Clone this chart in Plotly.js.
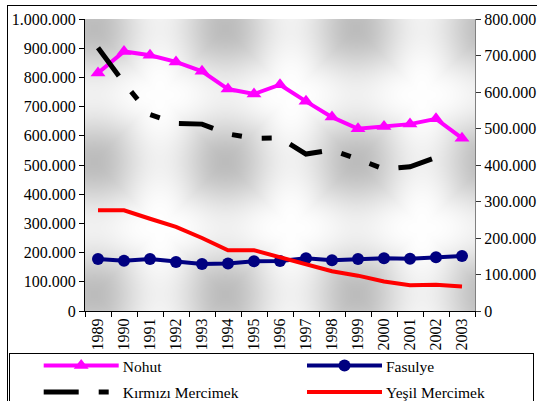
<!DOCTYPE html>
<html><head><meta charset="utf-8">
<script src="https://cdn.plot.ly/plotly-3.0.1.min.js"></script>
<style>
html,body{margin:0;padding:0;overflow:hidden;background:#fff;width:537px;height:401px;}
#chart{position:absolute;left:0;top:0;width:537px;height:401px;}
#frame{position:absolute;left:7px;top:5px;width:600px;height:500px;border:1px solid #000;pointer-events:none;}
</style></head><body>
<div id="chart"></div><div id="frame"></div>
<script>
// ---- data ----
const years = ['1989','1990','1991','1992','1993','1994','1995','1996','1997','1998','1999','2000','2001','2002','2003'];
const nohut = [815000, 889000, 876000, 853000, 821000, 760000, 743000, 775000, 718000, 664000, 624000, 632000, 640000, 658000, 592000];
const fasulye = [178000, 172000, 178000, 168000, 161000, 163000, 170000, 171000, 181000, 174000, 178000, 181000, 179000, 184000, 188000];
// right axis (0 - 800.000)
const kirmiziMercimek = [721000, 625000, 538000, 514000, 512000, 485000, 473000, 474000, 430000, 441000, 416000, 389000, 395000, 421000, null];
const yesilMercimek = [345000, 345000, 316000, 288000, 250000, 208000, 208000, 184000, 161000, 136000, 121000, 101000, 88000, 90000, 84000];
const seriesNames = ['Nohut', 'Fasulye', 'Kırmızı Mercimek', 'Yeşil Mercimek'];

// ---- background texture for the plot area ----
function makeTexture(w, h, ox, oy) {
  const c = document.createElement('canvas'); c.width = w; c.height = h;
  const ctx = c.getContext('2d'); const img = ctx.createImageData(w, h);
  for (let y = 0; y < h; y++) {
    for (let x = 0; x < w; x++) {
      const X = ox + x, Y = oy + y;
      const tx = 0.5 + 0.5 * Math.cos(2 * Math.PI * (X - 94) / 131);
      const ty = 0.5 + 0.5 * Math.cos(2 * Math.PI * (Y - 28) / 133);
      const f = 0.6 * Math.pow((tx + ty) / 2, 1.5) + 0.4 * Math.min(tx, ty);
      const v = Math.round(254 - 66 * f);
      const k = (y * w + x) * 4;
      img.data[k] = v; img.data[k + 1] = v; img.data[k + 2] = v; img.data[k + 3] = 255;
    }
  }
  ctx.putImageData(img, 0, 0);
  return c.toDataURL();
}

const serif = 'Liberation Serif';
const tickFont = {family: serif, size: 16, color: '#000'};

const data = [
  {x: years, y: nohut, name: seriesNames[0], type: 'scatter', mode: 'lines+markers',
   line: {color: '#FF00FF', width: 4}, marker: {symbol: 'triangle-up', size: 13, color: '#FF00FF'}},
  {x: years, y: fasulye, name: seriesNames[1], type: 'scatter', mode: 'lines+markers',
   line: {color: '#000080', width: 4}, marker: {symbol: 'circle', size: 12, color: '#000080'}},
  {x: years, y: kirmiziMercimek, name: seriesNames[2], type: 'scatter', mode: 'lines', yaxis: 'y2',
   line: {color: '#000000', width: 5, dash: '35px,20px,10px,20px,10px,20px'}, connectgaps: false},
  {x: years, y: yesilMercimek, name: seriesNames[3], type: 'scatter', mode: 'lines',
   line: {color: '#FF0000', width: 4}}
];

const layout = {
  width: 537, height: 401,
  font: {family: serif, color: '#000'},
  margin: {l: 85, r: 62, t: 19, b: 90, autoexpand: false},
  paper_bgcolor: 'rgba(0,0,0,0)', plot_bgcolor: '#ffffff',
  separators: ',.',
  showlegend: true,
  xaxis: {type: 'category', categoryorder: 'array', categoryarray: years, range: [-0.5, 14.5],
    showline: true, linecolor: '#000', linewidth: 1, ticks: 'outside', ticklen: 5, tickcolor: '#000',
    tickson: 'boundaries', tickangle: -90, tickfont: tickFont, showgrid: false, zeroline: false, fixedrange: true},
  yaxis: {range: [0, 1000000], dtick: 100000, tickformat: ',d', showline: true, linecolor: '#000',
    ticks: 'outside', ticklen: 5, tickcolor: '#000', tickfont: tickFont, showgrid: false, zeroline: false},
  yaxis2: {overlaying: 'y', side: 'right', range: [0, 800000], dtick: 100000, tickformat: ',d',
    showline: true, linecolor: '#808080', ticks: 'outside', ticklen: 5, tickcolor: '#333',
    tickfont: tickFont, showgrid: false, zeroline: false},
  legend: {orientation: 'h', x: -0.19, xanchor: 'left', y: -0.145, yanchor: 'top',
    bgcolor: '#fff', bordercolor: '#000', borderwidth: 1, entrywidth: 230, entrywidthmode: 'pixels',
    font: {family: serif, size: 15.5, color: '#000'}, traceorder: 'normal'},
  images: [{source: makeTexture(390, 292, 85, 19), xref: 'paper', yref: 'paper', x: 0, y: 1,
    sizex: 1, sizey: 1, sizing: 'stretch', xanchor: 'left', yanchor: 'top', layer: 'below'}]
};

function fixLegend() {
  const gd = document.getElementById('chart');
  const leg = gd.querySelector('g.legend'); if (!leg) return;
  const sb = leg.querySelector('g.scrollbox'); if (sb) sb.removeAttribute('clip-path');
  const lm = leg.getScreenCTM();
  const bg = leg.querySelector('rect.bg');
  if (bg) {
    bg.setAttribute('x', 9.5 - lm.e); bg.setAttribute('y', 353.5 - lm.f);
    bg.setAttribute('width', 524); bg.setAttribute('height', 80);
  }
  const colX = [43.7, 307], rowY = [365.6, 392], L = 75;
  leg.querySelectorAll('g.traces').forEach((t, i) => {
    const col = i % 2, row = Math.floor(i / 2);
    const pm = t.parentNode.getScreenCTM();
    t.setAttribute('transform', 'translate(' + (colX[col] - pm.e) + ',' + (rowY[row] - pm.f) + ')');
    t.querySelectorAll('g.legendlines path').forEach(p => {
      const m = p.parentNode.getScreenCTM();
      p.setAttribute('d', 'M' + (colX[col] - m.e) + ',0h' + L);
    });
    t.querySelectorAll('g.legendsymbols path.scatterpts').forEach(p => {
      const m = p.parentNode.getScreenCTM();
      p.setAttribute('transform', 'translate(' + (colX[col] + L / 2 - m.e) + ',0)');
    });
    const tx = t.querySelector('text.legendtext');
    if (tx) { const m = tx.parentNode.getScreenCTM(); tx.setAttribute('x', colX[col] + L + 4 - m.e); }
  });
}

Plotly.newPlot('chart', data, layout, {staticPlot: true, displayModeBar: false}).then(fixLegend);
</script>
</body></html>
